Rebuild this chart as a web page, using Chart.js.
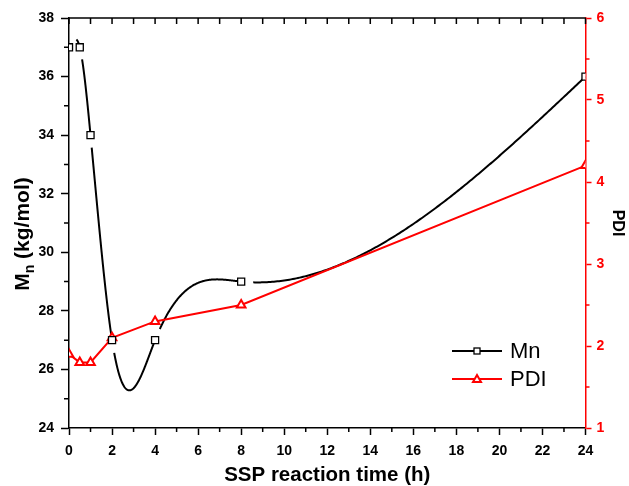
<!DOCTYPE html>
<html>
<head>
<meta charset="utf-8">
<script src="https://cdn.jsdelivr.net/npm/chart.js@4.4.1/dist/chart.umd.min.js"></script>
<style>
  html, body { margin: 0; padding: 0; background: #fff; }
</style>
</head>
<body>
<canvas id="sspChart" width="629" height="486"></canvas>
<script>
// reaction times (h) and measured values
const times = [0, 0.5, 1, 2, 4, 8, 24];
const mnValues = [37, 37, 34, 27, 27, 29, 36];
const pdiValues = [1.9, 1.8, 1.8, 2.1, 2.3, 2.5, 4.2];

const seriesLabels = ['Mn', 'PDI'];
const axisTitles = { x: 'SSP reaction time (h)', y1: 'PDI' };

const FONT = 'Arial, "Liberation Sans", Helvetica, sans-serif';
const RED = '#ff0000';

// second derivatives of a natural cubic spline through the points
function splineSecondDerivs(xs, ys) {
	let n = xs.length;
	let m = new Array(n).fill(0);
	let u = new Array(n).fill(0);
	for (let i = 1; i < n - 1; i++) {
		let sig = (xs[i] - xs[i - 1]) / (xs[i + 1] - xs[i - 1]);
		let p = sig * m[i - 1] + 2;
		m[i] = (sig - 1) / p;
		u[i] = (ys[i + 1] - ys[i]) / (xs[i + 1] - xs[i]) - (ys[i] - ys[i - 1]) / (xs[i] - xs[i - 1]);
		u[i] = (6 * u[i] / (xs[i + 1] - xs[i - 1]) - sig * u[i - 1]) / p;
	}
	m[n - 1] = 0;
	for (let k = n - 2; k >= 0; k--) {
		m[k] = m[k] * m[k + 1] + u[k];
	}
	return m;
}

function splineAt(xs, ys, m, i, xv) {
	let h = xs[i + 1] - xs[i];
	let a = (xs[i + 1] - xv) / h;
	let b = (xv - xs[i]) / h;
	return a * ys[i] + b * ys[i + 1] + ((a * a * a - a) * m[i] + (b * b * b - b) * m[i + 1]) * h * h / 6;
}

// Origin-style spline connection for the Mn series, with a gap after each symbol
const mnSplinePlugin = {
	id: 'mnSpline',
	beforeDatasetsDraw(chart) {
		const { ctx, chartArea, scales } = chart;
		const xs = scales.x, ys = scales.y;
		const m = splineSecondDerivs(times, mnValues);
		const gap = 12;
		ctx.save();
		ctx.beginPath();
		ctx.rect(chartArea.left, chartArea.top, chartArea.right - chartArea.left, chartArea.bottom - chartArea.top);
		ctx.clip();
		ctx.strokeStyle = '#000';
		ctx.lineWidth = 2;
		ctx.lineJoin = 'round';
		for (let i = 0; i < times.length - 1; i++) {
			let steps = 200;
			let len = 0, prev = null, drawing = false;
			ctx.beginPath();
			for (let k = 0; k <= steps; k++) {
				let xv = times[i] + (times[i + 1] - times[i]) * k / steps;
				let px = xs.getPixelForValue(xv);
				let py = ys.getPixelForValue(splineAt(times, mnValues, m, i, xv));
				if (prev) len += Math.hypot(px - prev[0], py - prev[1]);
				if (len >= gap) {
					if (!drawing) { ctx.moveTo(px, py); drawing = true; }
					else ctx.lineTo(px, py);
				}
				prev = [px, py];
			}
			ctx.stroke();
		}
		ctx.restore();
	}
};

// frame: top border, inward top ticks, minor ticks, left title with subscript, legend
const framePlugin = {
	id: 'frame',
	afterDraw(chart) {
		const { ctx, chartArea } = chart;
		const sx = chart.scales.x, sy = chart.scales.y, sy1 = chart.scales.y1;
		ctx.save();
		ctx.lineWidth = 1.5;
		ctx.strokeStyle = '#000';

		// top border with ticks pointing down
		ctx.beginPath();
		ctx.moveTo(chartArea.left, chartArea.top);
		ctx.lineTo(chartArea.right, chartArea.top);
		for (let v = sx.min; v <= sx.max; v += 1) {
			let px = sx.getPixelForValue(v);
			ctx.moveTo(px, chartArea.top);
			ctx.lineTo(px, chartArea.top + 6);
		}
		ctx.stroke();

		// minor ticks
		ctx.beginPath();
		for (let v = sx.min + 1; v < sx.max; v += 2) {
			let px = sx.getPixelForValue(v);
			ctx.moveTo(px, chartArea.bottom);
			ctx.lineTo(px, chartArea.bottom + 4);
		}
		for (let v = sy.min + 1; v < sy.max; v += 2) {
			let py = sy.getPixelForValue(v);
			ctx.moveTo(chartArea.left, py);
			ctx.lineTo(chartArea.left - 5, py);
		}
		ctx.stroke();
		ctx.strokeStyle = RED;
		ctx.beginPath();
		for (let v = sy1.min + 0.5; v < sy1.max; v += 1) {
			let py = sy1.getPixelForValue(v);
			ctx.moveTo(chartArea.right, py);
			ctx.lineTo(chartArea.right + 4, py);
		}
		ctx.stroke();

		// left axis title: M_n (kg/mol)
		ctx.save();
		ctx.translate(29, 234);
		ctx.rotate(-Math.PI / 2);
		ctx.fillStyle = '#000';
		ctx.textBaseline = 'alphabetic';
		let bigFont = 'bold 21px ' + FONT;
		let subFont = 'bold 14px ' + FONT;
		ctx.font = bigFont;
		let wM = ctx.measureText('M').width;
		let wRest = ctx.measureText(' (kg/mol)').width;
		ctx.font = subFont;
		let wSub = ctx.measureText('n').width;
		let x0 = -(wM + wSub + wRest) / 2;
		ctx.font = bigFont;
		ctx.fillText('M', x0, 0);
		ctx.font = subFont;
		ctx.fillText('n', x0 + wM, 5);
		ctx.font = bigFont;
		ctx.fillText(' (kg/mol)', x0 + wM + wSub, 0);
		ctx.restore();

		// legend
		const rows = [351, 379];
		chart.data.datasets.forEach((ds, i) => {
			let y = rows[i];
			ctx.strokeStyle = ds.borderColor;
			ctx.lineWidth = 2;
			ctx.beginPath();
			ctx.moveTo(452, y);
			ctx.lineTo(502, y);
			ctx.stroke();
			ctx.fillStyle = '#fff';
			if (ds.pointStyle === 'rect') {
				ctx.lineWidth = 1.3;
				ctx.fillRect(474, y - 3, 6, 6);
				ctx.strokeRect(474, y - 3, 6, 6);
			} else {
				ctx.lineWidth = 2;
				ctx.beginPath();
				ctx.moveTo(477, y - 4);
				ctx.lineTo(481, y + 3);
				ctx.lineTo(473, y + 3);
				ctx.closePath();
				ctx.fill();
				ctx.stroke();
			}
			ctx.fillStyle = '#000';
			ctx.font = '22px ' + FONT;
			ctx.textBaseline = 'middle';
			ctx.fillText(ds.label, 510, y + 1);
		});
		ctx.restore();
	}
};

const mnData = times.map((t, i) => ({ x: t, y: mnValues[i] }));
const pdiData = times.map((t, i) => ({ x: t, y: pdiValues[i] }));

new Chart(document.getElementById('sspChart'), {
	type: 'line',
	data: {
		datasets: [
			{
				label: seriesLabels[0],
				data: mnData,
				yAxisID: 'y',
				showLine: false,
				pointStyle: 'rect',
				pointRadius: 5,
				borderColor: '#000',
				backgroundColor: '#fff',
				pointBorderWidth: 1.3
			},
			{
				label: seriesLabels[1],
				data: pdiData,
				yAxisID: 'y1',
				borderColor: RED,
				borderWidth: 2,
				tension: 0,
				pointStyle: 'triangle',
				pointRadius: 5,
				pointBackgroundColor: '#fff',
				pointBorderColor: RED,
				pointBorderWidth: 2
			}
		]
	},
	options: {
		responsive: false,
		animation: false,
		devicePixelRatio: 1,
		events: [],
		layout: { padding: { top: 18, left: 0, right: 0, bottom: 0 } },
		plugins: {
			legend: { display: false },
			tooltip: { enabled: false }
		},
		scales: {
			x: {
				type: 'linear',
				min: 0,
				max: 24,
				afterFit: scale => { scale.height = 58; },
				ticks: {
					stepSize: 2,
					color: '#000',
					padding: 8,
					font: { family: FONT, size: 14, weight: 'bold' }
				},
				grid: { drawOnChartArea: false, tickLength: 7, tickColor: '#000', tickWidth: 1.5 },
				border: { color: '#000', width: 1.5 },
				title: {
					display: true,
					text: axisTitles.x,
					color: '#000',
					padding: 0,
					font: { family: FONT, size: 20.5, weight: 'bold', lineHeight: 1 }
				}
			},
			y: {
				position: 'left',
				min: 24,
				max: 38,
				afterFit: scale => { scale.width = 69; },
				ticks: {
					stepSize: 2,
					color: '#000',
					padding: 7,
					font: { family: FONT, size: 14, weight: 'bold' }
				},
				grid: { drawOnChartArea: false, tickLength: 8, tickColor: '#000', tickWidth: 1.5 },
				border: { color: '#000', width: 1.5 }
			},
			y1: {
				position: 'right',
				min: 1,
				max: 6,
				afterFit: scale => { scale.width = 43.5; },
				ticks: {
					stepSize: 1,
					color: RED,
					padding: 5,
					font: { family: FONT, size: 14, weight: 'bold' }
				},
				grid: { drawOnChartArea: false, tickLength: 6, tickColor: RED, tickWidth: 1.5 },
				border: { color: RED, width: 1.5 },
				title: {
					display: true,
					text: axisTitles.y1,
					color: '#000',
					padding: 2,
					font: { family: FONT, size: 16, weight: 'bold' }
				}
			}
		}
	},
	plugins: [mnSplinePlugin, framePlugin]
});
</script>
</body>
</html>
